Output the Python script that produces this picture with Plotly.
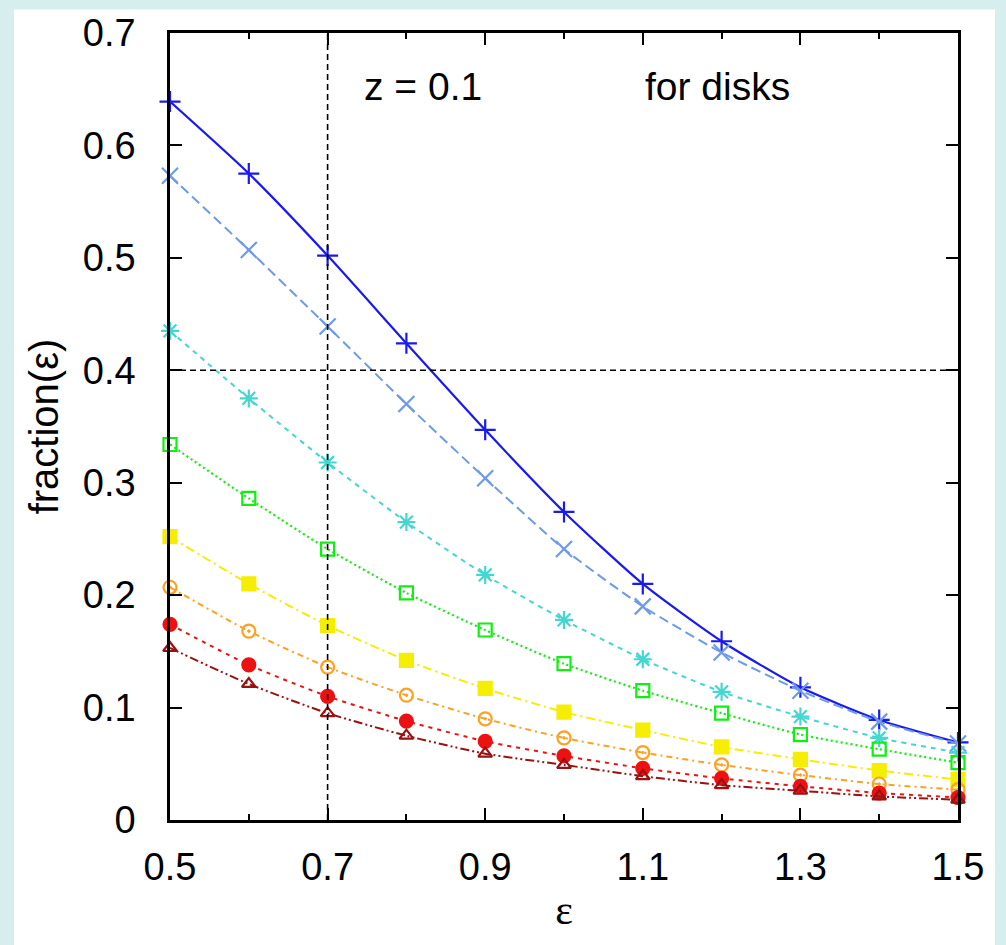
import plotly.graph_objects as go

eps = [0.5, 0.6, 0.7, 0.8, 0.9, 1.0, 1.1, 1.2, 1.3, 1.4, 1.5]

s1 = [0.639, 0.575, 0.502, 0.424, 0.347, 0.274, 0.210, 0.159, 0.118, 0.089, 0.069]
s2 = [0.573, 0.507, 0.439, 0.370, 0.304, 0.241, 0.190, 0.149, 0.115, 0.0875, 0.068]
s3 = [0.435, 0.375, 0.318, 0.265, 0.218, 0.178, 0.143, 0.114, 0.092, 0.073, 0.060]
s4 = [0.334, 0.286, 0.241, 0.202, 0.169, 0.139, 0.115, 0.095, 0.076, 0.063, 0.051]
s5 = [0.252, 0.210, 0.173, 0.142, 0.117, 0.096, 0.080, 0.065, 0.054, 0.044, 0.036]
s6 = [0.207, 0.168, 0.136, 0.111, 0.090, 0.073, 0.060, 0.049, 0.040, 0.032, 0.027]
s7 = [0.174, 0.138, 0.110, 0.088, 0.070, 0.057, 0.046, 0.037, 0.030, 0.024, 0.020]
s8 = [0.153, 0.121, 0.095, 0.075, 0.059, 0.049, 0.039, 0.031, 0.026, 0.021, 0.018]

series = [s1, s2, s3, s4, s5, s6, s7, s8]
colors = ["#1a1aee", "#6e9ae8", "#44d6d0", "#11ee11", "#f5ee00", "#ffa020", "#ee1111", "#991111"]
dashes = ["solid", "10px,5px", "5px,5px", "2px,3px", "9px,4px,2px,4px", "6px,4px,2px,4px",
          "4px,5px", "9px,3px,2px,3px,2px,3px"]
symbols = ["cross-thin-open", "x-thin-open", "asterisk-open", "square-open", "square",
           "circle-open-dot", "circle", "triangle-up-open"]
sizes = [15, 16, 15, 13, 13, 13, 13, 12]
widths = [2.2, 2, 2, 2.2, 2, 2, 2, 2]

x_ticks = [0.5, 0.7, 0.9, 1.1, 1.3, 1.5]
x_minor = [0.6, 0.8, 1.0, 1.2, 1.4]
y_ticks = [0, 0.1, 0.2, 0.3, 0.4, 0.5, 0.6, 0.7]

vline_x = 0.7
hline_y = 0.4

fig = go.Figure()

for ys, c, d, sym, sz, w in zip(series, colors, dashes, symbols, sizes, widths):
    fig.add_trace(go.Scatter(
        x=eps, y=ys, mode="lines+markers",
        line=dict(color=c, width=w, dash=d, shape="spline", smoothing=0.6),
        marker=dict(symbol=sym, size=sz, color=c, line=dict(color=c, width=2.2)),
        showlegend=False, cliponaxis=False,
    ))

fig.add_shape(type="line", x0=vline_x, x1=vline_x, y0=0, y1=0.7, xref="x", yref="y",
              line=dict(color="black", width=1.6, dash="6px,4px"))
fig.add_shape(type="line", x0=0.5, x1=1.5, y0=hline_y, y1=hline_y, xref="x", yref="y",
              line=dict(color="black", width=1.6, dash="6px,4px"))

# white page panel over pastel background
fig.add_shape(type="rect", xref="paper", yref="paper", x0=-0.198, x1=1.047, y0=-0.16, y1=1.03,
              fillcolor="white", line=dict(width=0), layer="below")

fig.add_annotation(x=0.821, y=0.652, xref="x", yref="y", text="z = 0.1", showarrow=False,
                   font=dict(family="Liberation Sans, Arial", size=39, color="black"))
fig.add_annotation(x=1.195, y=0.652, xref="x", yref="y", text="for disks", showarrow=False,
                   font=dict(family="Liberation Sans, Arial", size=39, color="black"))

fig.update_layout(
    width=1006, height=945,
    margin=dict(l=170, r=48, t=28, b=125),
    paper_bgcolor="#d6eeee",
    plot_bgcolor="white",
    font=dict(family="Liberation Sans, Arial", color="black"),
    xaxis=dict(
        range=[0.5, 1.5], tickvals=x_ticks,
        ticktext=[f"{v:.1f}" for v in x_ticks],
        ticks="inside", ticklen=12, tickwidth=2, tickcolor="black",
        minor=dict(tickvals=x_minor, ticks="inside", ticklen=6, tickwidth=2, tickcolor="black"),
        showline=True, linecolor="black", linewidth=2.5, mirror="ticks",
        showgrid=False, zeroline=False,
        tickfont=dict(size=38), ticklabelstandoff=12,
        title=dict(text="ε", font=dict(family="Liberation Serif, DejaVu Serif", size=42), standoff=8),
    ),
    yaxis=dict(
        range=[0, 0.7],
        tickvals=y_ticks,
        ticktext=["0" if v == 0 else f"{v:.1f}" for v in y_ticks],
        ticks="inside", ticklen=12, tickwidth=2, tickcolor="black",
        showline=True, linecolor="black", linewidth=2.5, mirror="ticks",
        showgrid=False, zeroline=False,
        tickfont=dict(size=38), ticklabelstandoff=24,
        title=dict(text="fraction(ε)", font=dict(family="Liberation Sans, Arial", size=40), standoff=12),
    ),
)

fig.write_html("out.html")
